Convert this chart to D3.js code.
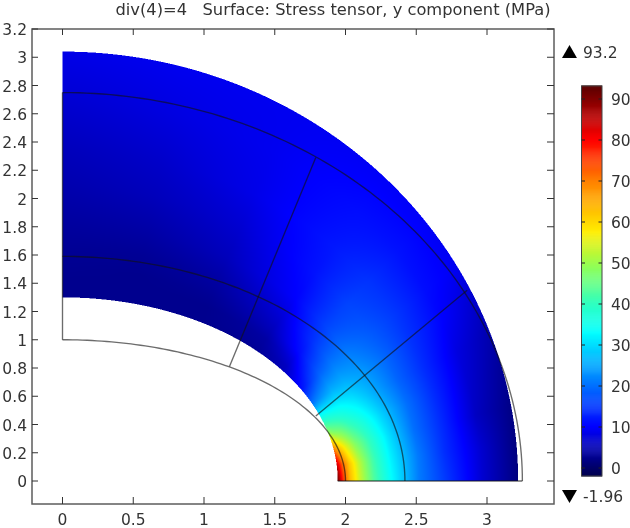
<!DOCTYPE html>
<html><head><meta charset="utf-8">
<style>html,body{margin:0;padding:0;background:#fff}svg{display:block;font-family:"DejaVu Sans",sans-serif}</style>
<script src="https://cdn.jsdelivr.net/npm/d3@7"></script></head>
<body><svg id="c" width="630" height="528"></svg>
<script>
const titleText = "div(4)=4   Surface: Stress tensor, y component (MPa)";
const xTicks = [0,0.5,1,1.5,2,2.5,3];
const yTicks = [0,0.2,0.4,0.6,0.8,1,1.2,1.4,1.6,1.8,2,2.2,2.4,2.6,2.8,3,3.2];
const barTicks = [0,10,20,30,40,50,60,70,80,90];
const fieldMax = 93.2, fieldMin = -1.96;
const colorStops = [-1.96,0,10,20,33,40,49,57.5,70,80,93.2];
const colorValues = ["#00004e","#000068","#0000ff","#0070ff","#00ffff","#30ffc0","#90ff58","#ffee00","#ff8000","#ff0000","#580000"];
const innerAxes = [1.945,1.3], outerAxes = [3.22,3.04];
const ellipses = [[2,1],[2.42,1.59],[3.25,2.75]];
const cuts = [[[1.18,0.81],[1.79,2.29]],[[1.79,0.46],[2.86,1.35]],[[1.945,0],[3.25,0]],[[0,1],[0,2.75]]];
const angleNodes = [0,5,10,15,20,25,30,37,45,60,75,90];
const depthNodes = [0,0.03,0.07,0.12,0.2,0.3,0.45,0.6,0.8,1];
const field = [
 [92,77,63,54,43,33,21,15,7,1.5],
 [85,73,62,53,42,32,21,14,7,1.5],
 [70,62,55,48,40,31,20,14,6,2],
 [50,47,45,41,36,29,20,14,7,3],
 [36,36,35,34,31,26,19,14,8,4.5],
 [20,22,24,26,26,24,19,14.5,10,6.5],
 [11,13,16,19,21,21,18,15,11,9],
 [5.5,6,8,11,14,16,16,14.5,11.5,9.5],
 [3,3.5,4,5.5,7.5,10,11.5,12,11,9.5],
 [2.5,2.5,2.5,3,4,5.5,7,8.5,9,9],
 [2.5,2.5,2.5,2.5,3,4,5.5,6.5,8,9],
 [2.5,2.5,2.5,2.7,3,3.6,4.6,5.5,7,8.5]
];

const svg = d3.select("#c");
const x = d3.scaleLinear().domain([0,3]).range([62.5,487]);
const y = d3.scaleLinear().domain([0,3.2]).range([481,29]);
const frame = {l:32,r:554,t:29,b:504};
const bar = d3.scaleLinear().domain([0,90]).range([468,99]);
const color = d3.scaleLinear().domain(colorStops).range(colorValues).interpolate(d3.interpolateRgb).clamp(true);
const angIdx = d3.scaleLinear().domain(angleNodes).range(d3.range(angleNodes.length)).clamp(true);
const depIdx = d3.scaleLinear().domain(depthNodes).range(d3.range(depthNodes.length)).clamp(true);
function value(a,d){
  const i=angIdx(a), j=depIdx(d);
  const i0=Math.min(Math.floor(i),angleNodes.length-2), j0=Math.min(Math.floor(j),depthNodes.length-2);
  const fi=i-i0, fj=j-j0;
  return (field[i0][j0]*(1-fi)+field[i0+1][j0]*fi)*(1-fj)+(field[i0][j0+1]*(1-fi)+field[i0+1][j0+1]*fi)*fj;
}
const SS=2, W=630, H=528;
const cv=document.createElement("canvas"); cv.width=W*SS; cv.height=H*SS;
const ctx=cv.getContext("2d"); const img=ctx.createImageData(cv.width,cv.height);
function ev(px,py,d){const a=innerAxes[0]+(outerAxes[0]-innerAxes[0])*d,b=innerAxes[1]+(outerAxes[1]-innerAxes[1])*d;return Math.hypot(px/a,py/b);}
for(let j=0;j<cv.height;j++)for(let i=0;i<cv.width;i++){
  const px=x.invert((i+.5)/SS), py=y.invert((j+.5)/SS);
  if(px<0||py<0) continue;
  if(ev(px,py,0)<1||ev(px,py,1)>1) continue;
  let lo=0,hi=1;
  for(let k=0;k<14;k++){const m=(lo+hi)/2; if(ev(px,py,m)>1) lo=m; else hi=m;}
  const d=(lo+hi)/2, a=innerAxes[0]+(outerAxes[0]-innerAxes[0])*d, b=innerAxes[1]+(outerAxes[1]-innerAxes[1])*d;
  const ang=Math.atan2(py/b,px/a)*180/Math.PI;
  const c=d3.rgb(color(value(ang,d))); const o=(j*cv.width+i)*4;
  img.data[o]=c.r;img.data[o+1]=c.g;img.data[o+2]=c.b;img.data[o+3]=255;
}
ctx.putImageData(img,0,0);
const root = svg.append("g").style("filter","blur(0.5px)");
root.append("image").attr("x",0).attr("y",0).attr("width",W).attr("height",H).attr("href",cv.toDataURL());

const lineGen=d3.line().x(p=>x(p[0])).y(p=>y(p[1]));
const geo=root.append("g").attr("fill","none").attr("stroke","#111").attr("stroke-opacity",0.62).attr("stroke-width",1.35);
geo.selectAll("path.e").data(ellipses).join("path").attr("class","e")
 .attr("d",e=>lineGen(d3.range(0,90.5,1).map(a=>[e[0]*Math.cos(a*Math.PI/180),e[1]*Math.sin(a*Math.PI/180)])));
geo.selectAll("path.c").data(cuts).join("path").attr("class","c").attr("d",lineGen);

const ink="#333", frameInk="#5c5c5c";
const ax=root.append("g");
ax.append("rect").attr("x",frame.l).attr("y",frame.t).attr("width",frame.r-frame.l).attr("height",frame.b-frame.t)
 .attr("fill","none").attr("stroke",frameInk).attr("stroke-width",1.5);
ax.selectAll("line.xb").data(xTicks).join("line").attr("class","xb").attr("x1",x).attr("x2",x).attr("y1",frame.b).attr("y2",frame.b-7).attr("stroke",ink);
ax.selectAll("line.xt").data(xTicks).join("line").attr("class","xt").attr("x1",x).attr("x2",x).attr("y1",frame.t).attr("y2",frame.t+6).attr("stroke",ink);
ax.selectAll("line.yl").data(yTicks).join("line").attr("class","yl").attr("y1",y).attr("y2",y).attr("x1",frame.l).attr("x2",frame.l+6).attr("stroke",ink);
ax.selectAll("line.yr").data(yTicks).join("line").attr("class","yr").attr("y1",y).attr("y2",y).attr("x1",frame.r).attr("x2",frame.r-7).attr("stroke",ink);
const fs=15.5;
ax.selectAll("text.xl").data(xTicks).join("text").attr("class","xl").attr("x",x).attr("y",525).attr("text-anchor","middle").attr("font-size",fs).attr("fill",ink).text(d=>d);
ax.selectAll("text.yt").data(yTicks).join("text").attr("class","yt").attr("x",27).attr("y",d=>y(d)+6).attr("text-anchor","end").attr("font-size",fs).attr("fill",ink).text(d=>d);
ax.append("text").attr("x",333).attr("y",15).attr("text-anchor","middle").attr("font-size",16.3).attr("fill",ink).style("white-space","pre").text(titleText);

const barG=root.append("g");
const barVals=d3.range(fieldMin,fieldMax,0.25);
barG.selectAll("rect.s").data(barVals).join("rect").attr("class","s").attr("x",581.5).attr("width",20.5)
 .attr("y",d=>bar(d+0.25)).attr("height",d=>bar(d)-bar(d+0.25)+0.4).attr("fill",d=>color(d));
barG.append("rect").attr("x",581.5).attr("width",20.5).attr("y",bar(fieldMax)).attr("height",bar(fieldMin)-bar(fieldMax))
 .attr("fill","none").attr("stroke","#444").attr("stroke-width",1);
barG.selectAll("line.l").data(barTicks).join("line").attr("class","l").attr("x1",581.5).attr("x2",585).attr("y1",bar).attr("y2",bar).attr("stroke","#222");
barG.selectAll("line.r").data(barTicks).join("line").attr("class","r").attr("x1",598.5).attr("x2",602).attr("y1",bar).attr("y2",bar).attr("stroke","#222");
barG.selectAll("text.b").data(barTicks).join("text").attr("class","b").attr("x",611).attr("y",d=>bar(d)+6).attr("font-size",fs).attr("fill",ink).text(d=>d);

barG.append("path").attr("d",d3.symbol(d3.symbolTriangle,97)()).attr("transform","translate(569.5,53.7)").attr("fill","#000");
barG.append("path").attr("d",d3.symbol(d3.symbolTriangle,97)()).attr("transform","translate(569.5,494.3) rotate(180)").attr("fill","#000");
barG.append("text").attr("x",583).attr("y",58).attr("font-size",fs).attr("fill",ink).text(fieldMax);
barG.append("text").attr("x",583).attr("y",502).attr("font-size",fs).attr("fill",ink).text(fieldMin);
</script></body></html>
